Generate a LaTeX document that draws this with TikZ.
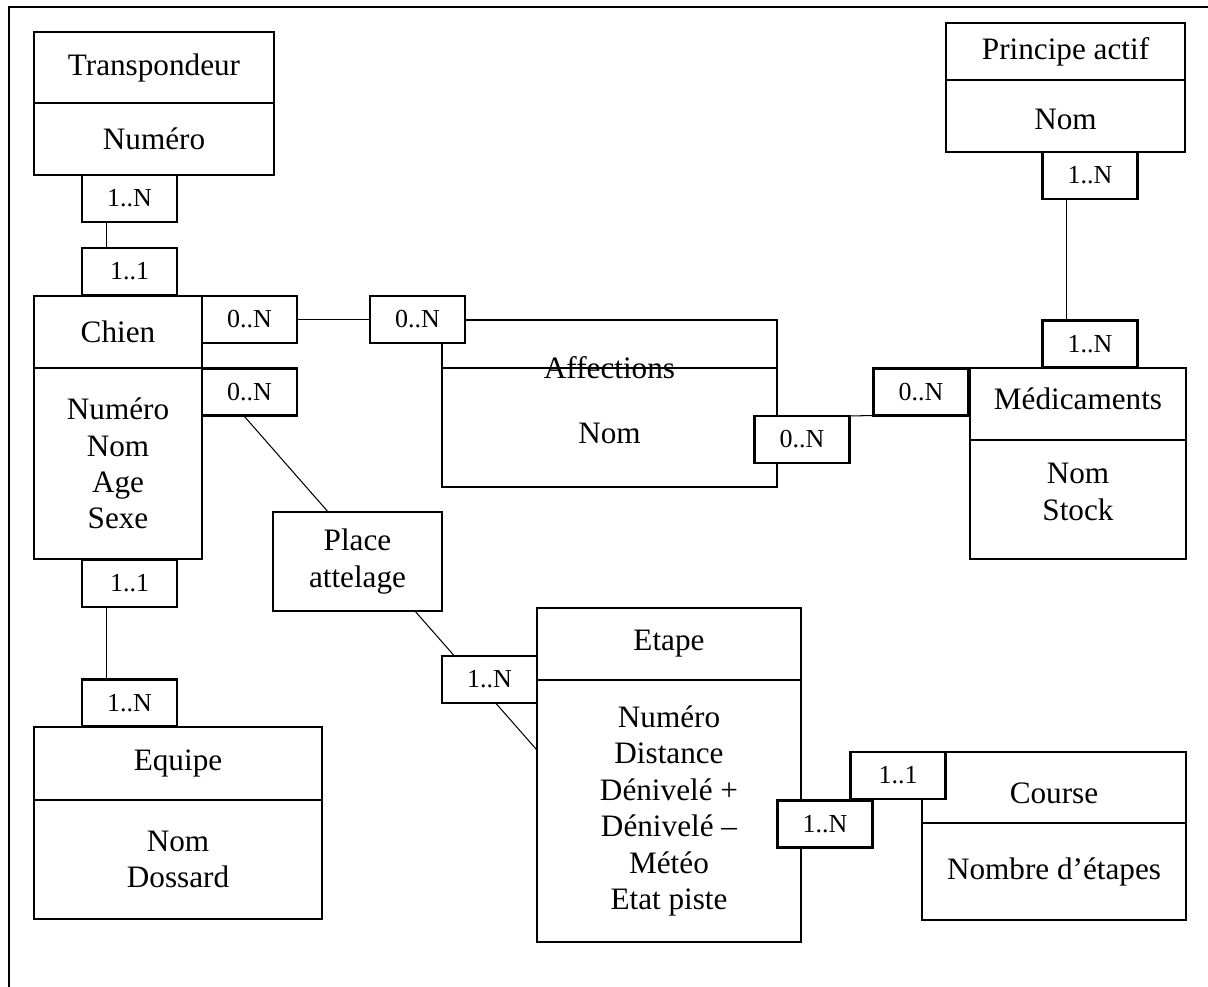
\documentclass[tikz,border=0pt]{standalone}
\usepackage{fontspec}
\setmainfont{Liberation Serif}
\usetikzlibrary{positioning}
\pgfdeclarelayer{background}
\pgfsetlayers{background,main}

\begin{document}
\begin{tikzpicture}[x=0.3846pt, y=-0.3846pt, line width=0.85pt,
							entitybox/.style={draw, outer sep=0pt, inner sep=0pt, align=center, font=\fontsize{12}{14}\selectfont},
							cardbox/.style={draw, fill=white, outer sep=0pt, inner sep=0pt, minimum width=36.5pt, minimum height=18.1pt, font=\fontsize{10}{12}\selectfont},
							]
							\useasboundingbox (0,0) rectangle (1208,987);
							%Entities
							\node[entitybox, minimum width=92.3pt, minimum height=27.3pt]       (transH)   at (154,67.5)     {Transpondeur};
							\node[entitybox, minimum width=92.3pt, minimum height=27.7pt, below=0pt of transH] (transB) {Numéro};
							\node[entitybox, minimum width=64.6pt, minimum height=27.7pt]       (chienH)   at (118,332)      {Chien};
							\node[entitybox, minimum width=64.6pt, minimum height=73.5pt, below=0pt of chienH] (chienB) {Numéro\\Nom\\Age\\Sexe};
							\node[entitybox, minimum width=110.8pt, minimum height=28.1pt]      (equipeH)  at (178,763.5)    {Equipe};
							\node[entitybox, minimum width=110.8pt, minimum height=45.8pt, below=0pt of equipeH] (equipeB) {Nom\\Dossard};
							\node[entitybox, minimum width=65pt, minimum height=38.1pt]         (place)    at (357.5,561.5)  {Place\\attelage};
							\node[entitybox, minimum width=101.5pt, minimum height=27.7pt]      (etapeH)   at (669,644)      {Etape};
							\node[entitybox, minimum width=101.5pt, minimum height=100.8pt, below=0pt of etapeH] (etapeB) {Numéro\\Distance\\Dénivelé +\\Dénivelé –\\Météo\\Etat piste};
							\node[entitybox, minimum width=128.8pt, minimum height=18.5pt]      (affH)     at (609.5,344)    {};
							\node[entitybox, minimum width=128.8pt, minimum height=45.8pt, below=0pt of affH, text height=12.5pt] (affB) {Nom};
							\node[font=\fontsize{12}{14}\selectfont] (affT) at (affH.south) {Affections};
							\node[entitybox, minimum width=83.1pt, minimum height=27.7pt, text depth=4.5pt] (medH) at (1078,404) {Médicaments};
							\node[entitybox, minimum width=83.1pt, minimum height=45.8pt, below=0pt of medH, text depth=6pt] (medB) {Nom\\Stock};
							\node[entitybox, minimum width=91.9pt, minimum height=21.9pt]       (princH)   at (1065.5,51.5)  {Principe actif};
							\node[entitybox, minimum width=91.9pt, minimum height=27.7pt, below=0pt of princH, text height=10.5pt] (princB) {Nom};
							\node[entitybox, minimum width=101.5pt, minimum height=27.3pt, text height=12.5pt] (courseH) at (1054,787.5) {Course};
							\node[entitybox, minimum width=101.5pt, minimum height=37.3pt, below=0pt of courseH] (courseB) {Nombre d’étapes};
							%Cards
							\node[cardbox]  (transC)   at (129.5,198.5)  {1..N};
							\node[cardbox]  (chienT)   at (129.5,271.5)  {1..1};
							\node[cardbox]  (chienA)   at (249.5,319.5)  {0..N};
							\node[cardbox]  (chienP)   at (249.5,392)    {0..N};
							\node[cardbox]  (chienE)   at (129.5,583.5)  {1..1};
							\node[cardbox]  (equipeC)  at (129.5,703)    {1..N};
							\node[cardbox]  (etapeP)   at (489.5,679.5)  {1..N};
							\node[cardbox]  (affC)     at (417.5,319.5)  {0..N};
							\node[cardbox]  (affM)     at (802,439.5)    {0..N};
							\node[cardbox]  (medA)     at (921,392)      {0..N};
							\node[cardbox]  (medP)     at (1090,344)     {1..N};
							\node[cardbox]  (princM)   at (1090,175.5)   {1..N};
							\node[cardbox]  (courseE)  at (898,775.5)    {1..1};
							\node[cardbox]  (etapeC)   at (825,824)      {1..N};

							\begin{pgfonlayer}{background}
							%Frame
							\draw (9,987) -- (9,7) -- (1208,7);
							%Lines
							\draw ([xshift=-9pt]transC.south) -- ([xshift=-9pt]chienT.north);
							\draw ([xshift=-9pt]chienE.south) -- ([xshift=-9pt]equipeC.north);
							\draw ([xshift=-9pt]princM.south) -- ([xshift=-9pt]medP.north);
							\draw (chienA.east) -- (affC.west);
							\draw (affM.north east) -- (medA.south west);
							\draw (chienB.north east) -- ([xshift=21.2pt]place.north west);
							\draw ([xshift=-10.4pt]place.south east) -- ([yshift=-27pt]etapeB.north west);
							\end{pgfonlayer}
						\end{tikzpicture}
\end{document}
